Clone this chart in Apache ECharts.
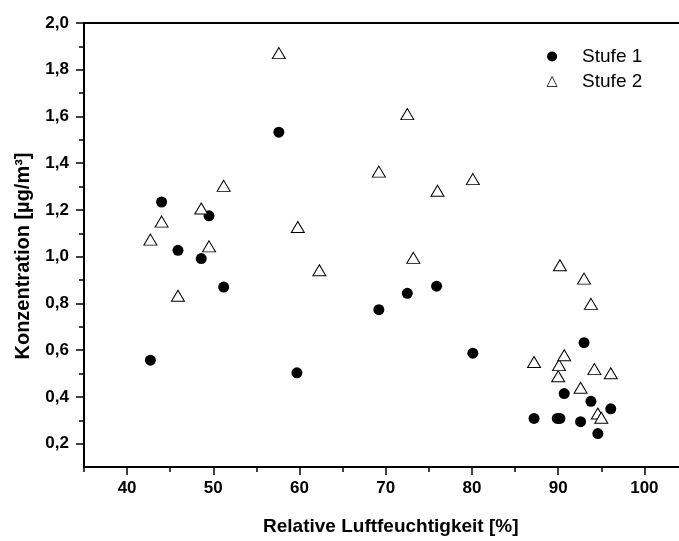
<!DOCTYPE html>
<html>
<head>
<meta charset="utf-8">
<script src="https://cdn.jsdelivr.net/npm/echarts@6/dist/echarts.min.js"></script>
<style>
  html, body { margin: 0; padding: 0; background: #fff; overflow: hidden; }
  #chart { width: 700px; height: 541px; }
</style>
</head>
<body>
<div id="chart"></div>
<script>
// Stufe 1 (filled circles)
var stufe1X = [42.7, 44.0, 45.9, 48.6, 49.5, 51.2, 57.6, 59.7, 69.2, 72.5, 75.9, 80.1,
               87.2, 89.9, 90.2, 90.7, 92.6, 93.0, 93.8, 94.6, 96.1];
var stufe1Y = [0.557, 1.234, 1.027, 0.992, 1.175, 0.870, 1.533, 0.503, 0.773, 0.843, 0.874, 0.587,
               0.308, 0.308, 0.308, 0.414, 0.294, 0.632, 0.381, 0.243, 0.349];
// Stufe 2 (open triangles)
var stufe2X = [42.7, 44.0, 45.9, 48.6, 49.5, 51.2, 57.6, 59.8, 62.3, 69.2, 72.5, 73.2, 76.0, 80.1,
               87.2, 90.0, 90.1, 90.2, 90.7, 92.6, 93.0, 93.8, 94.2, 94.6, 95.0, 96.1];
var stufe2Y = [1.073, 1.150, 0.833, 1.206, 1.044, 1.303, 1.871, 1.127, 0.942, 1.364, 1.610, 0.995, 1.282, 1.332,
               0.549, 0.488, 0.536, 0.963, 0.578, 0.439, 0.906, 0.798, 0.519, 0.329, 0.311, 0.501];

var xMajor = [40, 50, 60, 70, 80, 90, 100];
var xMinor = [35, 45, 55, 65, 75, 85, 95, 105];
var yMajor = [0.2, 0.4, 0.6, 0.8, 1.0, 1.2, 1.4, 1.6, 1.8, 2.0];
var yMinor = [0.3, 0.5, 0.7, 0.9, 1.1, 1.3, 1.5, 1.7, 1.9];

function pairs(xs, ys) {
    return xs.map(function (x, i) { return [x, ys[i]]; });
}

var font = 'Liberation Sans, Arial, sans-serif';
var chart = echarts.init(document.getElementById('chart'));

var option = {
    animation: false,
    textStyle: { fontFamily: font },
    grid: {
        left: 84, top: 23, right: 12.5, bottom: 69,
        show: true, borderColor: '#000', borderWidth: 2
    },
    legend: {
        orient: 'vertical',
        left: 541.7, top: 42,
        itemWidth: 10, itemHeight: 10,
        itemGap: 6,
        textStyle: { fontSize: 19, color: '#000', fontFamily: font, padding: [0, 0, 0, 20] },
        data: [
            { name: 'Stufe 1' },
            { name: 'Stufe 2', itemStyle: { borderWidth: 0.8 } }
        ]
    },
    xAxis: [{
        type: 'value', min: 35, max: 105,
        name: 'Relative Luftfeuchtigkeit [%]',
        nameLocation: 'middle', nameGap: 50,
        nameTextStyle: { fontSize: 19, fontWeight: 'bold', color: '#000', padding: [0, 0, 0, 10] },
        axisLine: { lineStyle: { color: '#000', width: 2 } },
        axisTick: { length: 8, lineStyle: { color: '#000', width: 1.5 }, customValues: xMajor },
        axisLabel: { customValues: xMajor, fontSize: 17, fontWeight: 'bold', color: '#000', margin: 13 },
        splitLine: { show: false }
    }, {
        type: 'value', min: 35, max: 105, position: 'bottom',
        axisLine: { show: false },
        axisTick: { length: 5, lineStyle: { color: '#000', width: 1.5 }, customValues: xMinor },
        axisLabel: { show: false },
        splitLine: { show: false }
    }],
    yAxis: [{
        type: 'value', min: 0.1, max: 2.0,
        name: 'Konzentration [µg/m³]',
        nameLocation: 'middle', nameGap: 51,
        nameTextStyle: { fontSize: 20, fontWeight: 'bold', color: '#000', padding: [0, 22, 0, 0] },
        axisLine: { lineStyle: { color: '#000', width: 2 } },
        axisTick: { length: 8, lineStyle: { color: '#000', width: 1.5 }, customValues: yMajor },
        axisLabel: {
            customValues: yMajor, fontSize: 17, fontWeight: 'bold', color: '#000', margin: 15,
            formatter: function (v) { return v.toFixed(1).replace('.', ','); }
        },
        splitLine: { show: false }
    }, {
        type: 'value', min: 0.1, max: 2.0, position: 'left',
        axisLine: { show: false },
        axisTick: { length: 5, lineStyle: { color: '#000', width: 1.5 }, customValues: yMinor },
        axisLabel: { show: false },
        splitLine: { show: false }
    }],
    series: [{
        name: 'Stufe 1',
        type: 'scatter',
        symbol: 'circle',
        symbolSize: 11,
        itemStyle: { color: '#000', opacity: 1 },
        data: pairs(stufe1X, stufe1Y)
    }, {
        name: 'Stufe 2',
        type: 'scatter',
        symbol: 'triangle',
        symbolSize: [13, 11],
        itemStyle: { color: '#fff', borderColor: '#000', borderWidth: 1, opacity: 1 },
        data: pairs(stufe2X, stufe2Y)
    }]
};
chart.setOption(option);
</script>
</body>
</html>
